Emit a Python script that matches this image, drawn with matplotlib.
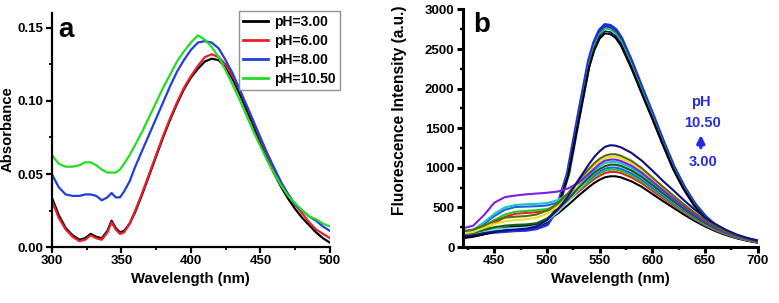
import numpy as np
import matplotlib.pyplot as plt
from matplotlib.ticker import MultipleLocator

plt.rcParams['font.family'] = ['Liberation Sans', 'DejaVu Sans']
plt.rcParams['font.weight'] = 'bold'

# ---- panel a: absorbance vs wavelength at four pH values
wl_a = [300, 305, 310, 315, 320, 324, 328, 332, 336, 340, 343, 346, 349, 352, 356,
        360, 365, 370, 375, 380, 385, 390, 395, 400, 405, 410, 415, 420, 425, 430,
        435, 440, 445, 450, 455, 460, 465, 470, 475, 480, 485, 490, 495, 500]
abs_ph3 = [.034, .022, .013, .008, .005, .006, .009, .007, .006, .011, .018, .013, .010, .011, .016,
           .024, .036, .049, .062, .075, .087, .098, .108, .116, .122, .127, .129, .128, .123, .115,
           .105, .094, .083, .071, .060, .050, .041, .033, .026, .020, .015, .010, .006, .003]
abs_ph6 = [.032, .020, .012, .007, .004, .005, .008, .006, .005, .010, .017, .012, .009, .010, .016,
           .025, .037, .050, .063, .076, .088, .099, .109, .117, .124, .130, .132, .130, .125, .117,
           .108, .097, .086, .074, .063, .053, .044, .036, .029, .023, .017, .012, .009, .006]
abs_ph8 = [.050, .041, .036, .035, .035, .036, .036, .035, .032, .034, .037, .034, .034, .038, .045,
           .055, .066, .077, .088, .099, .110, .120, .128, .135, .140, .141, .140, .136, .128, .119,
           .108, .097, .086, .075, .064, .054, .044, .036, .029, .025, .021, .018, .014, .011]
abs_ph105 = [.063, .057, .055, .055, .056, .058, .058, .056, .053, .051, .051, .051, .053, .057, .063,
             .070, .079, .089, .099, .109, .118, .127, .134, .140, .145, .142, .137, .130, .121, .111,
             .101, .090, .079, .069, .059, .050, .042, .035, .030, .025, .021, .019, .016, .014]
labels_a = ['pH=3.00', 'pH=6.00', 'pH=8.00', 'pH=10.50']
colors_a = ['black', '#e8202a', '#1f3fe0', '#22dd22']

# ---- panel b: fluorescence spectra across pH 3.00 - 10.50
wl_b = [420, 430, 440, 450, 460, 470, 480, 490, 500, 510, 520, 530, 540, 545, 550, 555,
        560, 565, 570, 580, 590, 600, 610, 620, 630, 640, 650, 660, 670, 680, 690, 700]
fl_low = {
    'black': [110, 130, 160, 200, 240, 260, 270, 290, 340, 420, 530, 650, 760, 810, 850, 880,
              893, 893, 880, 830, 760, 670, 580, 495, 410, 330, 260, 200, 150, 110, 80, 55],
    '#e8202a': [150, 170, 220, 300, 380, 420, 430, 440, 460, 500, 590, 700, 810, 860, 900, 935,
                948, 948, 935, 880, 805, 710, 615, 525, 435, 350, 275, 212, 160, 117, 85, 59],
    '#22cc22': [170, 200, 260, 340, 410, 446, 455, 465, 480, 520, 610, 720, 830, 890, 930, 962,
                977, 977, 962, 908, 830, 733, 635, 542, 449, 361, 283, 219, 164, 120, 88, 61],
    '#1f5fe8': [180, 210, 290, 390, 470, 505, 510, 515, 525, 560, 640, 740, 855, 910, 955, 990,
                1003, 1003, 988, 933, 853, 752, 652, 557, 461, 371, 291, 225, 169, 123, 90, 62],
    '#7fd6f0': [140, 160, 190, 215, 232, 240, 245, 265, 330, 440, 580, 730, 870, 930, 980, 1015,
                1032, 1032, 1016, 960, 877, 774, 671, 573, 475, 382, 299, 231, 173, 127, 93, 64],
    '#19c6c6': [190, 220, 310, 420, 500, 530, 540, 545, 555, 590, 670, 790, 910, 970, 1020, 1058,
                1074, 1074, 1058, 999, 913, 806, 698, 596, 494, 397, 311, 241, 180, 132, 97, 67],
    '#1a5c1a': [160, 180, 215, 250, 270, 280, 285, 300, 360, 470, 600, 750, 880, 940, 985, 1020,
                1040, 1040, 1025, 968, 884, 781, 677, 578, 479, 385, 302, 233, 175, 128, 94, 65],
    '#e8e020': [170, 190, 240, 290, 325, 341, 350, 370, 420, 510, 640, 800, 960, 1030, 1085, 1120,
                1138, 1138, 1121, 1058, 967, 854, 740, 632, 523, 421, 330, 255, 191, 140, 102, 71],
    '#7a1fe8': [236, 270, 400, 560, 630, 650, 665, 675, 685, 700, 740, 810, 930, 990, 1050, 1090,
                1104, 1104, 1087, 1027, 938, 828, 718, 613, 508, 408, 320, 247, 185, 136, 99, 68],
    '#5a6a10': [200, 220, 270, 330, 370, 383, 390, 410, 460, 550, 680, 840, 990, 1060, 1115, 1153,
                1171, 1171, 1153, 1089, 995, 878, 761, 650, 539, 433, 340, 262, 197, 144, 105, 73],
    '#10107a': [130, 150, 175, 195, 210, 220, 230, 260, 340, 470, 640, 850, 1050, 1140, 1210, 1265,
                1285, 1280, 1260, 1190, 1090, 965, 835, 715, 590, 475, 372, 288, 216, 158, 115, 80],
}
fl_high_blue = [150, 165, 180, 195, 205, 215, 220, 240, 290, 500, 930, 1650, 2350, 2580, 2730, 2800,
                2790, 2740, 2640, 2340, 2000, 1670, 1330, 1010, 750, 540, 380, 260, 180, 130, 95, 70]
fl_high = {
    '#22cc22': [170, 190, 210, 230, 250, 260, 265, 280, 330, 520, 930, 1630, 2320, 2545, 2690, 2760,
                2750, 2700, 2605, 2310, 1975, 1650, 1315, 1000, 740, 535, 375, 257, 178, 128, 94, 69],
    '#10107a': [140, 155, 175, 200, 220, 235, 240, 255, 310, 500, 910, 1610, 2290, 2510, 2660, 2725,
                2715, 2665, 2570, 2280, 1950, 1630, 1300, 985, 730, 525, 370, 254, 176, 127, 93, 68],
    'black': [120, 135, 160, 190, 215, 235, 245, 265, 320, 500, 900, 1590, 2265, 2485, 2630, 2697,
              2688, 2640, 2545, 2255, 1930, 1610, 1285, 975, 725, 520, 367, 252, 175, 126, 92, 68],
}

fig = plt.figure(figsize=(7.79, 3.03), dpi=100)

# panel a
ax1 = fig.add_axes([0.0664, 0.1848, 0.3572, 0.771])
for vals, c, lab in zip([abs_ph3, abs_ph6, abs_ph8, abs_ph105], colors_a, labels_a):
    ax1.plot(wl_a, vals, color=c, lw=1.6, label=lab)
ax1.set_xlim(300, 500)
ax1.set_ylim(0, 0.16)
ax1.xaxis.set_major_locator(MultipleLocator(50))
ax1.xaxis.set_minor_locator(MultipleLocator(25))
ax1.yaxis.set_major_locator(MultipleLocator(0.05))
ax1.yaxis.set_minor_locator(MultipleLocator(0.025))
ax1.yaxis.set_major_formatter(plt.FormatStrFormatter('%.2f'))
ax1.set_xlabel('Wavelength (nm)', fontsize=10.7, fontweight='bold', labelpad=3)
ax1.set_ylabel('Absorbance', fontsize=10.7, fontweight='bold')
ax1.yaxis.set_label_coords(-0.135, 0.505)
ax1.text(0.025, 0.93, 'a', transform=ax1.transAxes, fontsize=20, fontweight='bold', va='center')
leg = ax1.legend(loc='upper right', bbox_to_anchor=(1.035, 1.01), borderaxespad=0,
                 fontsize=10, handlelength=1.8, handletextpad=0.4, labelspacing=0.35,
                 fancybox=False, edgecolor='#777777', borderpad=0.3)
leg.get_frame().set_linewidth(1.0)
for t in leg.get_texts():
    t.set_fontweight('bold')
for h in leg.get_lines():
    h.set_linewidth(2)

# panel b
ax2 = fig.add_axes([0.594, 0.1848, 0.3787, 0.784])
ax2.plot(wl_b, fl_high_blue, color='#1f2fe0', lw=3.2)
for c, vals in fl_high.items():
    ax2.plot(wl_b, vals, color=c, lw=1.3)
for c, vals in fl_low.items():
    ax2.plot(wl_b, vals, color=c, lw=1.5)
ax2.set_xlim(420, 700)
ax2.set_ylim(0, 3000)
ax2.xaxis.set_major_locator(MultipleLocator(50))
ax2.xaxis.set_minor_locator(MultipleLocator(25))
ax2.yaxis.set_major_locator(MultipleLocator(500))
ax2.yaxis.set_minor_locator(MultipleLocator(250))
ax2.set_xlabel('Wavelength (nm)', fontsize=10.7, fontweight='bold', labelpad=3)
ax2.set_ylabel('Fluorescence Intensity (a.u.)', fontsize=11.2, fontweight='bold')
ax2.yaxis.set_label_coords(-0.19, 0.575)
ax2.text(0.035, 0.935, 'b', transform=ax2.transAxes, fontsize=20, fontweight='bold', va='center')
ph_col = '#2a2ae0'
ax2.text(646, 1834, 'pH', color=ph_col, fontsize=10.5, fontweight='bold', ha='center', va='center')
ax2.text(648, 1561, '10.50', color=ph_col, fontsize=10.5, fontweight='bold', ha='center', va='center')
ax2.text(648, 1077, '3.00', color=ph_col, fontsize=10.5, fontweight='bold', ha='center', va='center')
ax2.annotate('', xy=(646, 1450), xytext=(646, 1220),
             arrowprops=dict(arrowstyle='-|>', color=ph_col, lw=2.4, mutation_scale=11))

for ax, sw in [(ax1, 1.6), (ax2, 2.2)]:
    ax.spines['top'].set_visible(False)
    ax.spines['right'].set_visible(False)
    for s in ['left', 'bottom']:
        ax.spines[s].set_linewidth(sw)
    ax.tick_params(which='major', direction='out', length=4, width=sw, labelsize=9.5, pad=2)
    ax.tick_params(which='minor', direction='out', length=2.5, width=sw * 0.8)
    for lbl in ax.get_xticklabels() + ax.get_yticklabels():
        lbl.set_fontweight('bold')

fig.savefig('out.png', dpi=100, facecolor='white')
